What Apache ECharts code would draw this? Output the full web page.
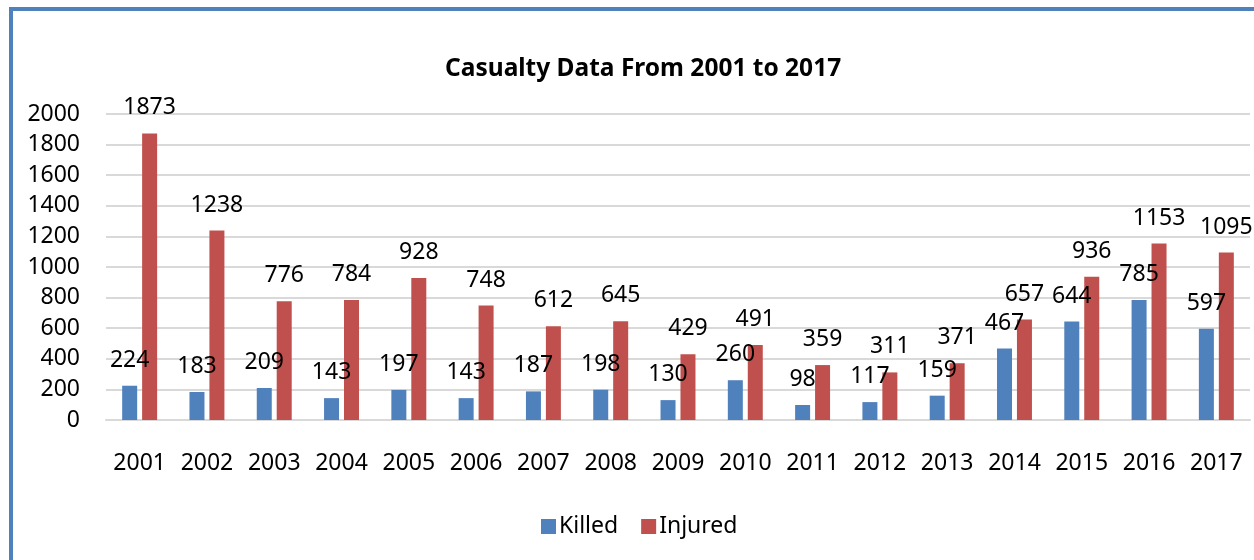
<!DOCTYPE html>
<html>
<head>
<meta charset="utf-8">
<script src="https://cdn.jsdelivr.net/npm/echarts@6/dist/echarts.min.js"></script>
<style>
    html, body { margin: 0; padding: 0; background: #fff; }
    #frame {
        position: absolute; left: 9px; top: 7px; width: 1300px; height: 600px;
        border-left: 4px solid #4f81bd; border-top: 4px solid #4f81bd;
        box-sizing: border-box;
    }
    #main { position: absolute; left: 0; top: 0; width: 1254px; height: 560px; }
</style>
</head>
<body>
<div id="frame"></div>
<div id="main"></div>
<script>
var years = ['2001','2002','2003','2004','2005','2006','2007','2008','2009','2010','2011','2012','2013','2014','2015','2016','2017'];
var killed = [224, 183, 209, 143, 197, 143, 187, 198, 130, 260, 98, 117, 159, 467, 644, 785, 597];
var injured = [1873, 1238, 776, 784, 928, 748, 612, 645, 429, 491, 359, 311, 371, 657, 936, 1153, 1095];
var fontName = '"Noto Sans", "Open Sans", sans-serif';

var myChart = echarts.init(document.getElementById('main'));
var labelStyle = {
    show: true,
    position: 'top',
    distance: 14,
    fontSize: 23,
    fontFamily: fontName,
    color: '#000'
};
var option = {
    animation: false,
    title: {
        text: 'Casualty Data From 2001 to 2017',
        left: 440,
        top: 52,
        textStyle: { fontSize: 24.5, fontWeight: 'bold', fontFamily: fontName, color: '#000' }
    },
    legend: {
        data: ['Killed', 'Injured'],
        left: 536,
        top: 510,
        itemWidth: 15,
        itemHeight: 15,
        itemGap: 23,
        icon: 'rect',
        textStyle: { fontSize: 23, fontFamily: fontName, color: '#000', padding: [0, 0, 0, -2] }
    },
    grid: {
        left: 106,
        right: 4,
        top: 114,
        bottom: 140
    },
    xAxis: {
        type: 'category',
        data: years,
        axisTick: { show: false },
        axisLine: { lineStyle: { color: '#d9d9d9', width: 2 } },
        axisLabel: { interval: 0, fontSize: 23, fontFamily: fontName, color: '#000', margin: 32 }
    },
    yAxis: {
        type: 'value',
        min: 0,
        max: 2000,
        interval: 200,
        axisLine: { show: false },
        axisTick: { show: false },
        splitLine: { lineStyle: { color: '#d9d9d9', width: 2 } },
        axisLabel: {
            fontSize: 23, fontFamily: fontName, color: '#000', margin: 26,
            formatter: function (value) { return String(value); }
        }
    },
    series: [
        {
            name: 'Killed',
            type: 'bar',
            data: killed,
            barWidth: 15,
            barGap: '33%',
            itemStyle: { color: '#4f81bd' },
            label: labelStyle
        },
        {
            name: 'Injured',
            type: 'bar',
            data: injured,
            barWidth: 15,
            itemStyle: { color: '#c0504d' },
            label: labelStyle
        }
    ]
};
myChart.setOption(option);
</script>
</body>
</html>
